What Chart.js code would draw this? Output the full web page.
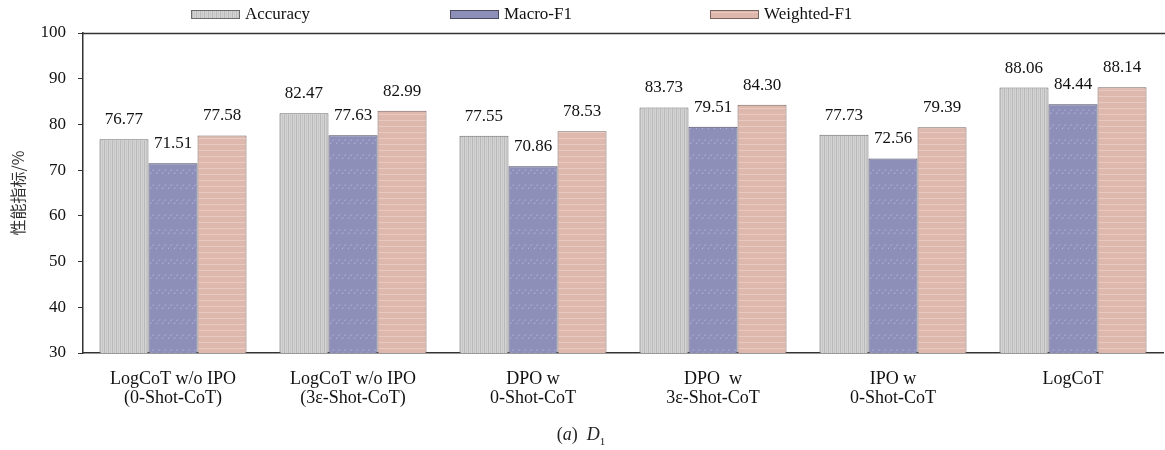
<!DOCTYPE html>
<html>
<head>
<meta charset="utf-8">
<script src="https://cdn.jsdelivr.net/npm/chart.js@4.4.0/dist/chart.umd.min.js"></script>
<style>
  html, body { margin: 0; padding: 0; background: #fff; }
  #wrap { position: relative; width: 1165px; height: 450px; }
  #caption { position: absolute; left: 0; width: 1162px; top: 423px; text-align: center;
    font-family: "Liberation Serif", serif; font-size: 18px; line-height: 22px; color: #222; }
  #caption i { font-style: italic; }
  #caption sub { font-size: 11px; }
</style>
</head>
<body>
<div id="wrap">
  <canvas id="c" width="1165" height="450"></canvas>
  <div id="caption">(<i>a</i>)&nbsp; <i>D</i><sub>1</sub></div>
</div>
<script>
const categories = [
  ["LogCoT w/o IPO", "(0-Shot-CoT)"],
  ["LogCoT w/o IPO", "(3ε-Shot-CoT)"],
  ["DPO w", "0-Shot-CoT"],
  ["DPO  w", "3ε-Shot-CoT"],
  ["IPO w", "0-Shot-CoT"],
  ["LogCoT"]
];
const seriesNames = ["Accuracy", "Macro-F1", "Weighted-F1"];
const accuracy   = [76.77, 82.47, 77.55, 83.73, 77.73, 88.06];
const macroF1    = [71.51, 77.63, 70.86, 79.51, 72.56, 84.44];
const weightedF1 = [77.58, 82.99, 78.53, 84.30, 79.39, 88.14];
const yTicks = [30, 40, 50, 60, 70, 80, 90, 100];
const yTitle = "性能指标/%";

function makePattern(kind) {
  const c = document.createElement('canvas');
  const ctx = c.getContext('2d');
  if (kind === 'vert') {
    c.width = 4; c.height = 4;
    ctx.fillStyle = '#d3d3d3'; ctx.fillRect(0, 0, 4, 4);
    ctx.fillStyle = '#b9b9b9'; ctx.fillRect(0, 0, 1, 4);
    ctx.fillStyle = '#c6c6c6'; ctx.fillRect(2, 0, 1, 4);
  } else if (kind === 'diag') {
    c.width = 24; c.height = 15;
    ctx.fillStyle = '#8e8fb9'; ctx.fillRect(0, 0, 24, 15);
    ctx.strokeStyle = '#b4b6e2'; ctx.lineWidth = 1;
    ctx.setLineDash([2, 2]);
    for (let i = 0; i < 4; i++) {
      ctx.beginPath();
      ctx.moveTo(i * 6, 9); ctx.lineTo(i * 6 + 5, 3); ctx.stroke();
    }
  } else {
    c.width = 4; c.height = 6;
    ctx.fillStyle = '#deb7ad'; ctx.fillRect(0, 0, 4, 6);
    ctx.fillStyle = '#e8cac2'; ctx.fillRect(0, 0, 4, 1);
  }
  return document.getElementById('c').getContext('2d').createPattern(c, 'repeat');
}

const fills = [makePattern('vert'), makePattern('diag'), makePattern('horiz')];
const borders = ['#6a6a6a', '#4a4a60', '#7a6460'];
const seriesData = [accuracy, macroF1, weightedF1];

const serif = "'Liberation Serif', 'Times New Roman', serif";

const customPlugin = {
  id: 'custom',
  afterDatasetsDraw(chart) {
    const ctx = chart.ctx;
    const ca = chart.chartArea;
    // top border
    ctx.save();
    ctx.strokeStyle = '#333';
    ctx.lineWidth = 1.5;
    ctx.beginPath();
    ctx.moveTo(ca.left, ca.top + 0.5);
    ctx.lineTo(chart.width, ca.top + 0.5);
    ctx.stroke();
    // value labels
    ctx.font = '17px ' + serif;
    ctx.fillStyle = '#111';
    ctx.textAlign = 'center';
    ctx.textBaseline = 'bottom';
    chart.data.datasets.forEach((ds, di) => {
      const meta = chart.getDatasetMeta(di);
      meta.data.forEach((bar, i) => {
        ctx.fillText(ds.data[i].toFixed(2), bar.x, bar.y - 11);
      });
    });
    // legend
    const legendX = [191, 450, 710];
    ctx.font = '17px ' + serif;
    ctx.textAlign = 'left';
    ctx.textBaseline = 'middle';
    chart.data.datasets.forEach((ds, di) => {
      const x = legendX[di];
      ctx.fillStyle = ds.backgroundColor;
      ctx.fillRect(x, 10, 48, 8);
      ctx.strokeStyle = ds.borderColor;
      ctx.lineWidth = 1;
      ctx.strokeRect(x + 0.5, 10.5, 48, 8);
      ctx.fillStyle = '#111';
      ctx.fillText(ds.label, x + 54, 15);
    });
    ctx.restore();
  }
};

new Chart(document.getElementById('c'), {
  type: 'bar',
  data: {
    labels: categories,
    datasets: seriesNames.map((name, i) => ({
      label: name,
      data: seriesData[i],
      backgroundColor: fills[i],
      borderColor: borders[i],
      borderWidth: 1,
      categoryPercentage: 0.817,
      barPercentage: 1.0
    }))
  },
  options: {
    responsive: false,
    animation: false,
    layout: { padding: { top: 33, right: 2, left: 0, bottom: 0 } },
    plugins: { legend: { display: false }, tooltip: { enabled: false } },
    scales: {
      x: {
        grid: { display: false },
        border: { color: '#333', width: 1.5 },
        ticks: { color: '#111', font: { family: serif, size: 18, lineHeight: 1.05 }, padding: 9, maxRotation: 0, autoSkip: false },
        afterFit(scale) { scale.height = 97; }
      },
      y: {
        min: 30, max: 100,
        afterBuildTicks(scale) { scale.ticks = yTicks.map(v => ({ value: v })); },
        grid: { drawOnChartArea: false, drawTicks: true, tickLength: 5, color: '#333' },
        border: { color: '#333', width: 1.5 },
        ticks: { color: '#111', font: { family: serif, size: 17 }, padding: 12 },
        title: { display: true, text: yTitle, color: '#333',
          font: { family: "'Noto Sans CJK SC', sans-serif", size: 16 }, padding: { top: 8, bottom: 0 } },
        afterFit(scale) { scale.width = 83; }
      }
    }
  },
  plugins: [customPlugin]
});
</script>
</body>
</html>
